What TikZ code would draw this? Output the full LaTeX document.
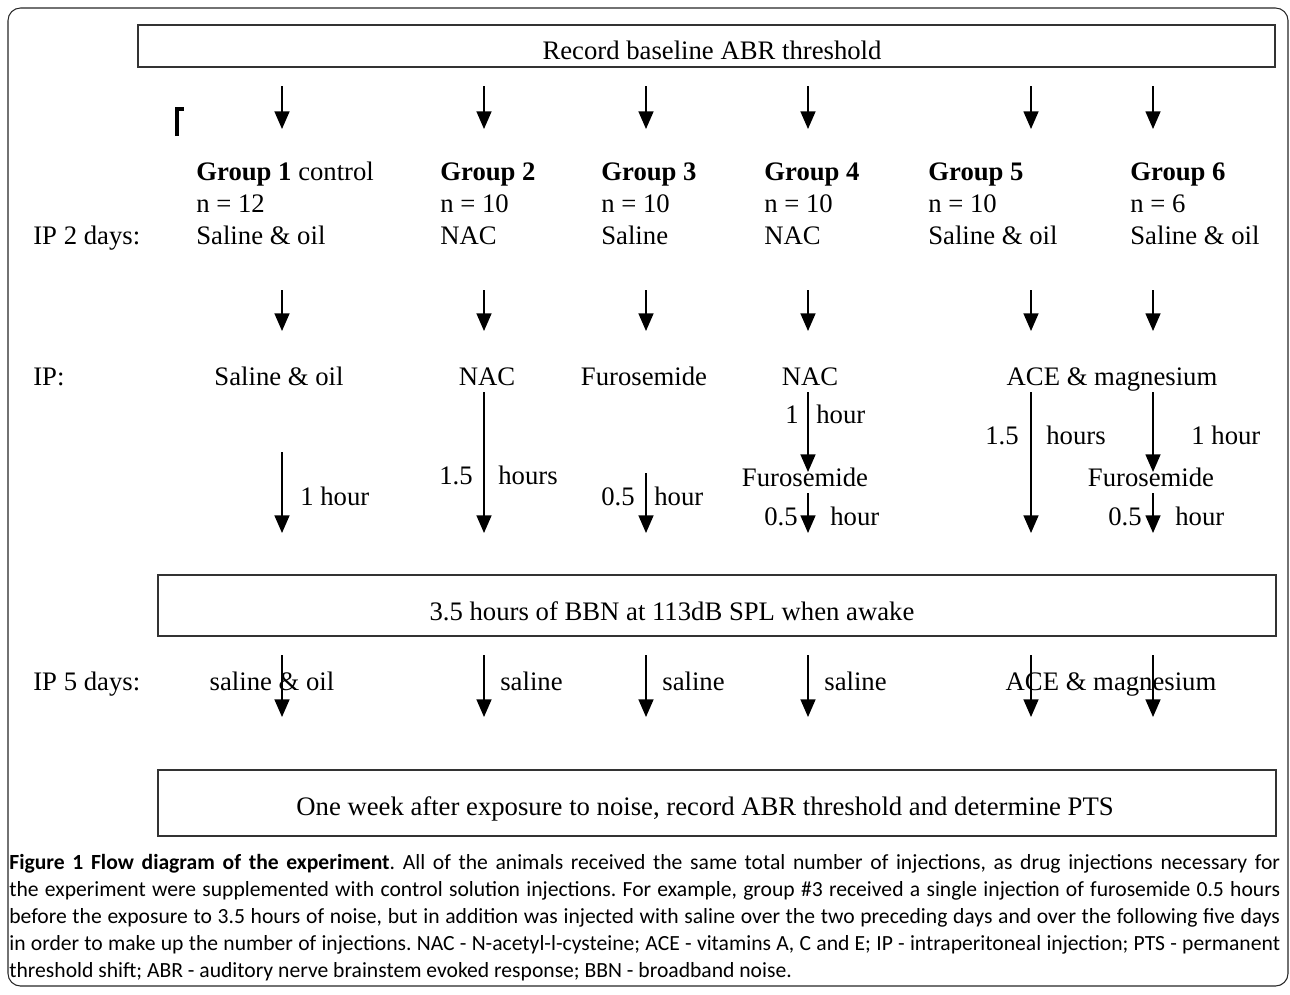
\documentclass[tikz,border=0pt]{standalone}
\usepackage{fontspec}
\setmainfont{Liberation Serif}
\newfontfamily\capfont{Carlito}
\usetikzlibrary{arrows.meta,positioning,calc}

\begin{document}
\begin{tikzpicture}[x=0.02cm,y=-0.02cm,
  txt/.style={inner sep=0pt,font=\fontsize{15.2}{18}\selectfont},
  stepbox/.style={draw=black!80,line width=1.1pt,inner sep=0pt},
  arr/.style={line width=0.8pt,-{Triangle[length=10pt,width=8.5pt]}}]
\useasboundingbox (0,0) rectangle (1290,994);
\draw[black!85,line width=0.6pt,rounded corners=0.25cm] (8,8) rectangle (1288,986);

% boxes
\node (base) at (706.5,46) [stepbox,minimum width=22.74cm,minimum height=0.84cm] {};
\node (basetxt) at (712,59) [txt,anchor=base] {Record baseline ABR threshold};
\node (noise) at (717,605.5) [stepbox,minimum width=22.38cm,minimum height=1.22cm] {};
\node (noisetxt) at (672,620) [txt,anchor=base] {3.5 hours of BBN at 113dB SPL when awake};
\node (pts) at (717,803) [stepbox,minimum width=22.38cm,minimum height=1.32cm] {};
\node (ptstxt) at (705,815) [txt,anchor=base] {One week after exposure to noise, record ABR threshold and determine PTS};

\draw[line width=1.8pt] (177,136) -- (177,109) -- (184,109);

% first arrows
\foreach \x [count=\i] in {282,484,646,808,1031,1153} {
  \coordinate (top\i) at (\x,86);
  \coordinate (grp\i) at (\x,129);
  \draw[arr] (top\i) -- (grp\i);
}

% groups
\node (g1) at (196,180) [txt,anchor=base west] {\textbf{Group 1} control};
\node (g2) at (440,180) [txt,anchor=base west] {\textbf{Group 2}};
\node (g3) at (601,180) [txt,anchor=base west] {\textbf{Group 3}};
\node (g4) at (764,180) [txt,anchor=base west] {\textbf{Group 4}};
\node (g5) at (928,180) [txt,anchor=base west] {\textbf{Group 5}};
\node (g6) at (1130,180) [txt,anchor=base west] {\textbf{Group 6}};
\node (n1) at (196,212) [txt,anchor=base west] {n = 12};
\node (n2) at (440,212) [txt,anchor=base west] {n = 10};
\node (n3) at (601,212) [txt,anchor=base west] {n = 10};
\node (n4) at (764,212) [txt,anchor=base west] {n = 10};
\node (n5) at (928,212) [txt,anchor=base west] {n = 10};
\node (n6) at (1130,212) [txt,anchor=base west] {n = 6};
\node (ip2) at (33,244) [txt,anchor=base west] {IP 2 days:};
\node (pre1) at (196,244) [txt,anchor=base west] {Saline \& oil};
\node (pre2) at (440,244) [txt,anchor=base west] {NAC};
\node (pre3) at (601,244) [txt,anchor=base west] {Saline};
\node (pre4) at (764,244) [txt,anchor=base west] {NAC};
\node (pre5) at (928,244) [txt,anchor=base west] {Saline \& oil};
\node (pre6) at (1130,244) [txt,anchor=base west] {Saline \& oil};

% second arrows
\foreach \x [count=\i] in {282,484,646,808,1031,1153} {
  \coordinate (mid\i) at (\x,290);
  \coordinate (ip\i) at (\x,331);
  \draw[arr] (mid\i) -- (ip\i);
}

% IP row
\node (iplbl) at (33,385) [txt,anchor=base west] {IP:};
\node (inj1) at (279,385) [txt,anchor=base] {Saline \& oil};
\node (inj2) at (487,385) [txt,anchor=base] {NAC};
\node (inj3) at (644,385) [txt,anchor=base] {Furosemide};
\node (inj4) at (810,385) [txt,anchor=base] {NAC};
\node (inj56) at (1112,385) [txt,anchor=base] {ACE \& magnesium};
\node (fur4) at (805,486) [txt,anchor=base] {Furosemide};
\node (fur6) at (1151,486) [txt,anchor=base] {Furosemide};

% waiting times
\coordinate (w1a) at (282,452); \coordinate (w1b) at (282,533);
\coordinate (w2a) at (484,392); \coordinate (w2b) at (484,533);
\coordinate (w3a) at (646,473); \coordinate (w3b) at (646,533);
\coordinate (w4a) at (808,392); \coordinate (w4b) at (808,472);
\coordinate (w4c) at (808,493); \coordinate (w4d) at (808,533);
\coordinate (w5a) at (1031,392); \coordinate (w5b) at (1031,533);
\coordinate (w6a) at (1153,392); \coordinate (w6b) at (1153,472);
\coordinate (w6c) at (1153,493); \coordinate (w6d) at (1153,533);
\draw[arr] (w1a) -- (w1b);
\draw[arr] (w2a) -- (w2b);
\draw[arr] (w3a) -- (w3b);
\draw[arr] (w4a) -- (w4b);
\draw[arr] (w4c) -- (w4d);
\draw[arr] (w5a) -- (w5b);
\draw[arr] (w6a) -- (w6b);
\draw[arr] (w6c) -- (w6d);

\node (t1) at (300,505) [txt,anchor=base west] {1 hour};
\node (t2l) at (473,484) [txt,anchor=base east] {1.5};
\node (t2r) at (498,484) [txt,anchor=base west] {hours};
\node (t3l) at (635,505) [txt,anchor=base east] {0.5};
\node (t3r) at (654,505) [txt,anchor=base west] {hour};
\node (t4l) at (799,423) [txt,anchor=base east] {1};
\node (t4r) at (816,423) [txt,anchor=base west] {hour};
\node (t4bl) at (798,525) [txt,anchor=base east] {0.5};
\node (t4br) at (830,525) [txt,anchor=base west] {hour};
\node (t5l) at (1019,444) [txt,anchor=base east] {1.5};
\node (t5r) at (1046,444) [txt,anchor=base west] {hours};
\node (t6) at (1191,444) [txt,anchor=base west] {1 hour};
\node (t6bl) at (1142,525) [txt,anchor=base east] {0.5};
\node (t6br) at (1175,525) [txt,anchor=base west] {hour};

% after noise
\foreach \x [count=\i] in {282,484,646,808,1031,1153} {
  \coordinate (post\i) at (\x,655);
  \coordinate (end\i) at (\x,717);
  \draw[arr] (post\i) -- (end\i);
}
\node (ip5) at (33,690) [txt,anchor=base west] {IP 5 days:};
\node (aft1) at (272,690) [txt,anchor=base] {saline \& oil};
\node (aft2) at (500,690) [txt,anchor=base west] {saline};
\node (aft3) at (662,690) [txt,anchor=base west] {saline};
\node (aft4) at (824,690) [txt,anchor=base west] {saline};
\node (aft56) at (1111,690) [txt,anchor=base] {ACE \& magnesium};

% caption
\node (caption) at (9,854) [anchor=north west,inner sep=0pt,text width=25.42cm,align=justify,
  font=\capfont\fontsize{12.3}{15.4}\selectfont] {\frenchspacing\textbf{Figure 1 Flow diagram of the experiment}. All of the animals received the same total number of injections, as drug injections necessary for\linebreak
the experiment were supplemented with control solution injections. For example, group \#3 received a single injection of furosemide 0.5 hours\linebreak
before the exposure to 3.5 hours of noise, but in addition was injected with saline over the two preceding days and over the following five days\linebreak
in order to make up the number of injections. NAC - N-acetyl-l-cysteine; ACE - vitamins A, C and E; IP - intraperitoneal injection; PTS - permanent\linebreak
threshold shift; ABR - auditory nerve brainstem evoked response; BBN - broadband noise.};
\end{tikzpicture}
\end{document}
